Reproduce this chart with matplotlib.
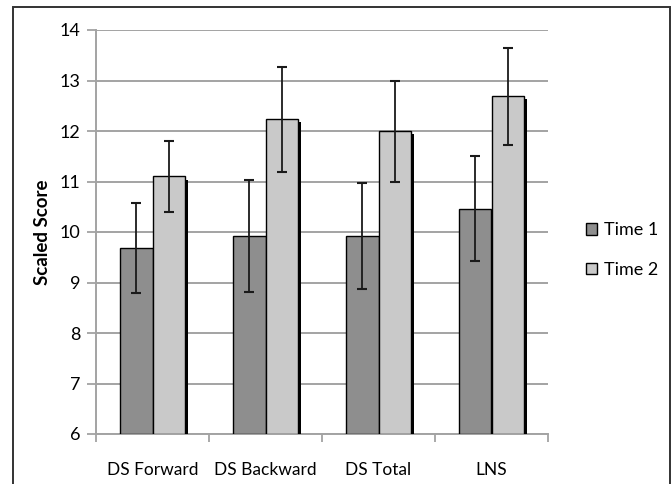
import matplotlib
matplotlib.use("Agg")
import matplotlib.pyplot as plt
import matplotlib.patheffects as pe
from matplotlib.patches import Patch, Rectangle
import numpy as np

categories = ["DS Forward", "DS Backward", "DS Total", "LNS"]
time1 = [9.69, 9.92, 9.92, 10.46]
time1_err = [0.89, 1.10, 1.05, 1.04]
time2 = [11.10, 12.23, 12.00, 12.69]
time2_err = [0.70, 1.04, 1.00, 0.96]
series_labels = ["Time 1", "Time 2"]
yticks = [6, 7, 8, 9, 10, 11, 12, 13, 14]

c1 = "#8e8e8e"
c2 = "#c9c9c9"
grid_c = "#a3a3a3"

plt.rcParams['font.family'] = ['Lato', 'DejaVu Sans']

fig = plt.figure(figsize=(6.72, 4.84), dpi=100)
ax = fig.add_axes([96/672, 1-434/484, (548-96)/672, (434-30)/484])

x = np.arange(len(categories))
w = 0.288
shadow = [pe.SimplePatchShadow(offset=(2.2, -2.2), shadow_rgbFace='black', alpha=1.0), pe.Normal()]

b1 = ax.bar(x - w/2, np.array(time1) - 6, w, bottom=6, color=c1, edgecolor='black', linewidth=1.0, zorder=3)
for p in b1:
    p.set_path_effects(shadow)
b2 = ax.bar(x + w/2, np.array(time2) - 6, w, bottom=6, color=c2, edgecolor='black', linewidth=1.0, zorder=3)
for p in b2:
    p.set_path_effects(shadow)

ax.errorbar(x - w/2, time1, yerr=time1_err, fmt='none', ecolor='#1a1a1a', elinewidth=1.3, capsize=3.8, capthick=1.5, zorder=5)
ax.errorbar(x + w/2, time2, yerr=time2_err, fmt='none', ecolor='#1a1a1a', elinewidth=1.3, capsize=3.8, capthick=1.5, zorder=5)

ax.set_xlim(-0.5, len(categories) - 0.5)
ax.set_ylim(6, 14)
ax.set_yticks(yticks)
ax.set_yticklabels([str(t) for t in yticks], fontsize=13)
ax.yaxis.grid(True, color=grid_c, linewidth=1.4, zorder=0)
ax.set_axisbelow(True)

ax.set_xticks(x)
ax.set_xticklabels(categories, fontsize=12.5)
ax.set_xticks(np.arange(-0.5, len(categories)), minor=True)
ax.tick_params(axis='x', which='major', length=0, pad=20)
ax.tick_params(axis='x', which='minor', length=6, width=1.3, color=grid_c)
ax.tick_params(axis='y', which='major', length=6.5, width=1.3, color=grid_c, pad=5)

for s in ['top', 'right']:
    ax.spines[s].set_visible(False)
for s in ['left', 'bottom']:
    ax.spines[s].set_color(grid_c)
    ax.spines[s].set_linewidth(1.4)

ax.set_ylabel("Scaled Score", fontsize=13.5, fontweight='bold')
ax.yaxis.set_label_coords((51-96)/452, 0.5)

handles = [Patch(facecolor=c1, edgecolor='black', linewidth=1.0),
           Patch(facecolor=c2, edgecolor='black', linewidth=1.0)]
fig.legend(handles, series_labels, loc='center left', bbox_to_anchor=(570/672, 1-250/484),
           frameon=False, fontsize=13, handlelength=0.6, handleheight=0.6,
           handletextpad=0.4, labelspacing=1.3)

fig.patches.append(Rectangle((13/672, -0.05), (670-13)/672, 1.05 - 7/484, transform=fig.transFigure,
                             fill=False, edgecolor='#333333', linewidth=1.4))

fig.savefig("out.png", dpi=100)
